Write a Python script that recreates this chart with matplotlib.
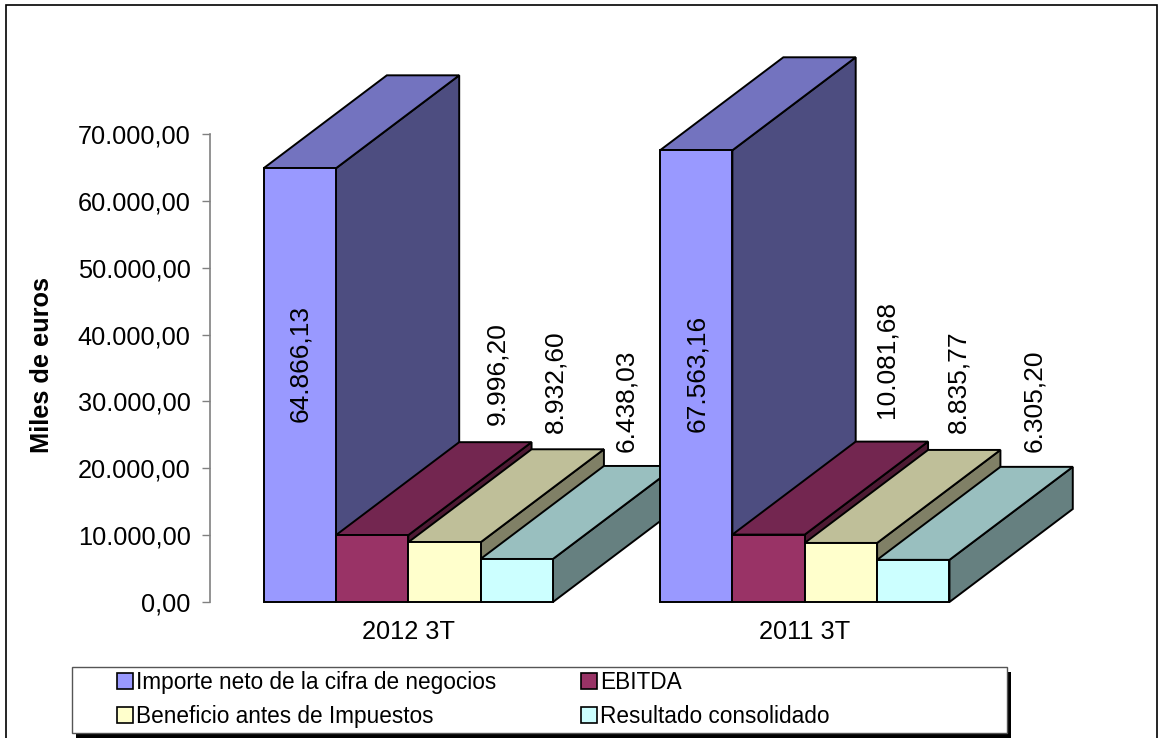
import matplotlib
matplotlib.use('Agg')
import matplotlib.pyplot as plt
from matplotlib.patches import Rectangle, Patch

plt.rcParams['font.family'] = ['Liberation Sans', 'DejaVu Sans']

# data
periods = ['2012 3T', '2011 3T']
series_names = ['Importe neto de la cifra de negocios', 'EBITDA',
                'Beneficio antes de Impuestos', 'Resultado consolidado']
importe = [64866.13, 67563.16]
ebitda = [9996.20, 10081.68]
beneficio = [8932.60, 8835.77]
resultado = [6438.03, 6305.20]
y_ticks = [0, 10000, 20000, 30000, 40000, 50000, 60000, 70000]
y_ticklabels = ['0,00', '10.000,00', '20.000,00', '30.000,00',
                '40.000,00', '50.000,00', '60.000,00', '70.000,00']

series = [importe, ebitda, beneficio, resultado]

# front, top and side colours of every series
front = ['#9999FF', '#993366', '#FFFFCC', '#CCFFFF']
top = ['#7373BF', '#732650', '#BFBF99', '#99BFBF']
side = ['#4D4D80', '#4D1A33', '#808066', '#668080']

W, H = 1167, 738
bar_w = 0.1825
depth_x = 0.311     # 3d depth in x units
depth_y = 13910     # 3d depth in y units

# label offsets from bar top centre, pixels
label_dx = [[0, 1], [125, 118], [111, 117], [109, 121]]
label_dy = [[-195, -223], [162, 175], [161, 161], [158, 159]]


def fmt(v):
    return f'{v:,.2f}'.replace(',', ' ').replace('.', ',').replace(' ', '.')


fig = plt.figure(figsize=(W / 100, H / 100), dpi=100)
ax = fig.add_axes([210 / W, (H - 602) / H, 793 / W, 468 / H])
ax.set_xlim(0, 2)
ax.set_ylim(0, 70000)
ax.patch.set_visible(False)

z = 3
for g in range(len(periods)):
    x0 = g + 0.5 - 2 * bar_w
    for s in range(len(series)):
        h = series[s][g]
        l = x0 + s * bar_w
        r = l + bar_w
        ax.fill([r, r + depth_x, r + depth_x, r], [0, depth_y, h + depth_y, h],
                facecolor=side[s], edgecolor='black', lw=1.4, clip_on=False, zorder=z)
        ax.fill([l, r, r + depth_x, l + depth_x], [h, h, h + depth_y, h + depth_y],
                facecolor=top[s], edgecolor='black', lw=1.4, clip_on=False, zorder=z)
        ax.bar(l, h, bar_w, align='edge', color=front[s], edgecolor='black', lw=1.4,
               clip_on=False, zorder=z)
        z += 1
        ax.annotate(fmt(h), (l + bar_w / 2, h), xytext=(label_dx[s][g], label_dy[s][g]),
                    textcoords='offset pixels', rotation=90, ha='center', va='center',
                    fontsize=19, color='black', zorder=50, annotation_clip=False)

for name in ['top', 'right', 'bottom']:
    ax.spines[name].set_visible(False)
ax.spines['left'].set_color('#808080')
ax.spines['left'].set_linewidth(1.2)
ax.set_yticks(y_ticks)
ax.set_yticklabels(y_ticklabels)
ax.tick_params(axis='y', length=6, width=1, color='#808080', labelsize=18.3, pad=8)
ax.set_xticks([0.5, 1.5])
ax.set_xticklabels(periods)
ax.tick_params(axis='x', length=0, labelsize=18.3, pad=13)

fig.text(42 / W, 1 - 365 / H, 'Miles de euros', rotation=90, fontsize=18.3,
         fontweight='bold', ha='center', va='center')

# outer frame, runs off the bottom of the picture
fig.add_artist(Rectangle((6 / W, -0.05), 1151 / W, 1.05 - 5 / H, transform=fig.transFigure,
                         facecolor='none', edgecolor='black', lw=1.2))

# legend box with hard shadow
fig.add_artist(Rectangle((76 / W, 1 - 739 / H), 935 / W, 67 / H, transform=fig.transFigure,
                         facecolor='black', edgecolor='none'))
fig.add_artist(Rectangle((72 / W, 1 - 733 / H), 935 / W, 66 / H, transform=fig.transFigure,
                         facecolor='white', edgecolor='#555555', lw=1))

handles = [Patch(facecolor=front[i], edgecolor='black', lw=1.2, label=series_names[i])
           for i in [0, 2, 1, 3]]
fig.legend(handles=handles, ncol=2, frameon=False, loc='center left',
           bbox_to_anchor=(116.5 / W, 1 - 699.5 / H), borderpad=0, borderaxespad=0,
           fontsize=16.3, handlelength=0.72, handleheight=0.72, handletextpad=0.13,
           columnspacing=3.75, labelspacing=0.49)

fig.savefig('out.png', dpi=100, facecolor='white')
